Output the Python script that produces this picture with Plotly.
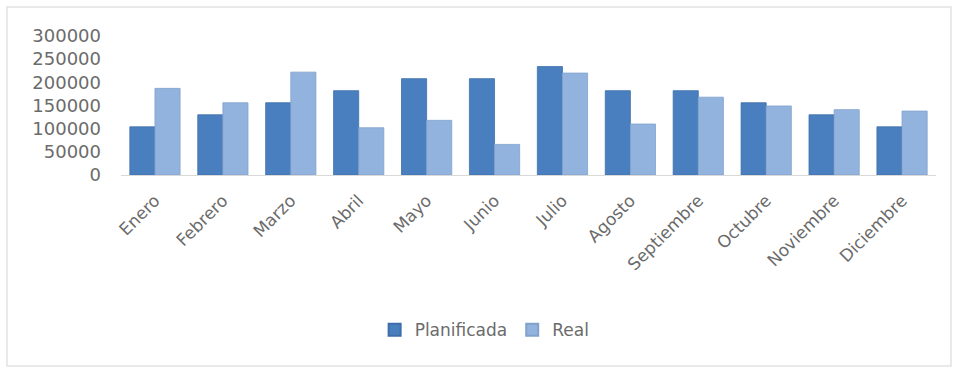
import plotly.graph_objects as go

# Monthly planned vs. actual figures
meses = ["Enero", "Febrero", "Marzo", "Abril", "Mayo", "Junio", "Julio",
         "Agosto", "Septiembre", "Octubre", "Noviembre", "Diciembre"]
planificada = [104000, 130000, 156000, 182000, 208000, 208000, 234000,
               182000, 182000, 156000, 130000, 104000]
real = [187000, 156000, 222000, 102000, 118000, 66000, 220000,
        110000, 168000, 149000, 141000, 138000]
y_ticks = [0, 50000, 100000, 150000, 200000, 250000, 300000]

W, H = 954, 369
M_L, M_R, M_T, M_B = 121, 18, 36, 194
TXT = "#6b6b6b"
FONT = "DejaVu Sans"

fig = go.Figure()
fig.add_trace(go.Bar(
    name="Planificada", x=meses, y=planificada,
    marker=dict(color="#4a7fbf", line=dict(color="#3d6ea9", width=0.8)),
))
fig.add_trace(go.Bar(
    name="Real", x=meses, y=real,
    marker=dict(color="#92b3dd", line=dict(color="#82a2cc", width=0.8)),
))

pw = W - M_L - M_R
ph = H - M_T - M_B

fig.update_layout(
    width=W, height=H,
    margin=dict(l=M_L, r=M_R, t=M_T, b=M_B),
    paper_bgcolor="white", plot_bgcolor="white",
    barmode="group", bargap=0.26, bargroupgap=0,
    font=dict(family=FONT, size=17, color=TXT),
    xaxis=dict(
        showgrid=False, showline=True, linecolor="#d9d9d9", linewidth=1,
        ticks="", tickangle=-45, tickfont=dict(size=17, color=TXT),
        ticklabelstandoff=8,
    ),
    yaxis=dict(
        range=[0, 300000], tickvals=y_ticks, ticktext=[str(v) for v in y_ticks],
        showgrid=False, zeroline=False, showline=False, ticks="",
        tickfont=dict(size=18, color=TXT), ticklabelstandoff=19,
    ),
    legend=dict(
        orientation="h", xref="container", yref="container",
        x=0.508, xanchor="center", y=0.105, yanchor="middle",
        font=dict(size=17, color=TXT), itemwidth=30,
        traceorder="normal", itemsizing="constant",
    ),
    showlegend=True,
    shapes=[dict(
        type="rect", xref="paper", yref="paper", layer="below",
        x0=(7 - M_L) / pw, x1=(951 - M_L) / pw,
        y0=(H - M_B - 366) / ph, y1=(H - M_B - 7) / ph,
        line=dict(color="#e2e2e2", width=1.5), fillcolor="rgba(0,0,0,0)",
    )],
)

fig.write_html("out.html")
